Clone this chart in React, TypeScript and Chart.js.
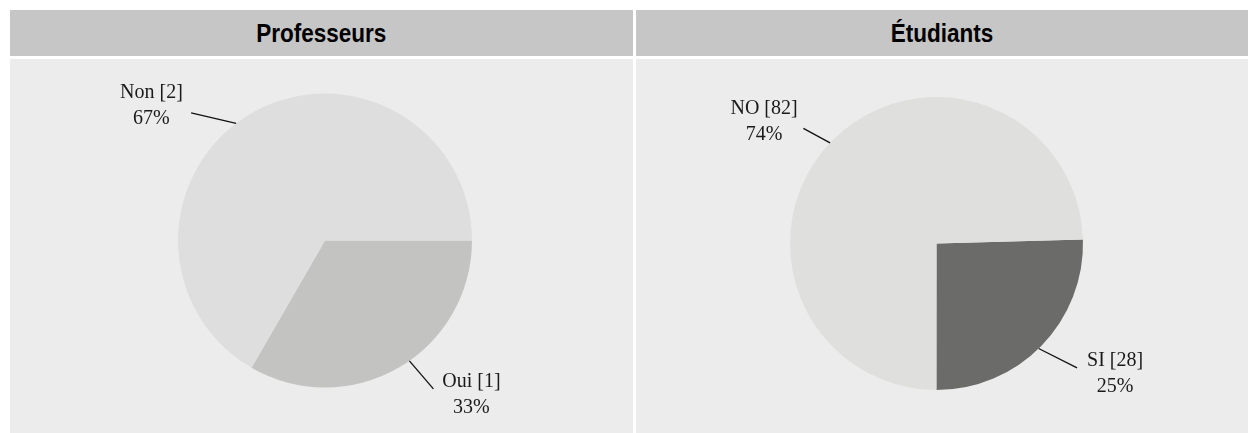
import React, { useEffect, useRef } from "react";
import { Chart, registerables } from "chart.js";

Chart.register(...registerables);

// ---- Data ----
const profTitle = "Professeurs";
const profLabels = ["Oui", "Non"];
const profCounts = [1, 2];
const profPercents = ["33%", "67%"];

const etuTitle = "Étudiants";
const etuLabels = ["SI", "NO"];
const etuCounts = [28, 82];
const etuPercents = ["25%", "74%"];

// ---- Styles ----
const profColors = ["#c3c3c2", "#dedede"];
const etuColors = ["#6b6b69", "#dfdfdd"];

type LabelStyle = {
  fracs: number[];
  lines: [number, number][];
  texts: [number, number][];
};

const leaderPlugin = {
  id: "leaders",
  afterDatasetsDraw(chart: any, _args: any, opts: any) {
    const ctx = chart.ctx as CanvasRenderingContext2D;
    const meta = chart.getDatasetMeta(0);
    const labels = chart.data.labels as string[];
    const counts = chart.data.datasets[0].data as number[];
    const pcts = opts.percents as string[];
    meta.data.forEach((arc: any, i: number) => {
      const p = arc.getProps(["x", "y", "startAngle", "endAngle", "outerRadius"], true);
      const a = p.startAngle + (p.endAngle - p.startAngle) * opts.fracs[i];
      const x0 = p.x + Math.cos(a) * p.outerRadius;
      const y0 = p.y + Math.sin(a) * p.outerRadius;
      const x1 = x0 + opts.lines[i][0];
      const y1 = y0 + opts.lines[i][1];
      ctx.save();
      ctx.strokeStyle = "#111";
      ctx.lineWidth = 1.3;
      ctx.beginPath();
      ctx.moveTo(x0, y0);
      ctx.lineTo(x1, y1);
      ctx.stroke();
      ctx.fillStyle = "#1a1a1a";
      ctx.font = "20px 'Liberation Serif', serif";
      ctx.textAlign = "center";
      ctx.textBaseline = "middle";
      const tx = x1 + opts.texts[i][0];
      const ty = y1 + opts.texts[i][1];
      ctx.fillText(`${labels[i]} [${counts[i]}]`, tx, ty);
      ctx.fillText(pcts[i], tx, ty + 26);
      ctx.restore();
    });
  },
};

type PanelProps = {
  title: string;
  labels: string[];
  counts: number[];
  percents: string[];
  colors: string[];
  left: number;
  width: number;
  padding: { left: number; right: number; top: number; bottom: number };
  rotation: number;
  labelStyle: LabelStyle;
};

function Panel(props: PanelProps) {
  const ref = useRef<HTMLCanvasElement | null>(null);
  useEffect(() => {
    if (!ref.current) return;
    const chart = new Chart(ref.current, {
      type: "pie",
      data: {
        labels: props.labels,
        datasets: [
          {
            data: props.counts,
            backgroundColor: props.colors,
            borderWidth: 0,
          },
        ],
      },
      options: {
        responsive: false,
        animation: false,
        rotation: props.rotation,
        layout: { padding: props.padding },
        plugins: {
          legend: { display: false },
          tooltip: { enabled: false },
          leaders: { ...props.labelStyle, percents: props.percents },
        } as any,
      },
      plugins: [leaderPlugin],
    });
    return () => chart.destroy();
  }, []);
  const bodyH = 374;
  return (
    <>
      <div
        style={{
          position: "absolute",
          left: props.left,
          top: 10,
          width: props.width,
          height: 46,
          background: "#c6c6c6",
          display: "flex",
          alignItems: "center",
          justifyContent: "center",
        }}
      >
        <span
          style={{
            display: "inline-block",
            fontFamily: "'Liberation Sans', Arial, sans-serif",
            fontWeight: "bold",
            fontSize: 25,
            color: "#000",
            transform: "scaleX(0.9)",
          }}
        >
          {props.title}
        </span>
      </div>
      <div
        style={{
          position: "absolute",
          left: props.left,
          top: 59,
          width: props.width,
          height: bodyH,
          background: "#ececec",
        }}
      >
        <canvas ref={ref} width={props.width} height={bodyH} style={{ display: "block" }} />
      </div>
    </>
  );
}

export default function App() {
  return (
    <div style={{ position: "absolute", left: 0, top: 0, width: 1248, height: 433, overflow: "hidden", background: "#fff" }}>
      <Panel
        title={profTitle}
        labels={profLabels}
        counts={profCounts}
        percents={profPercents}
        colors={profColors}
        left={10}
        width={623}
        padding={{ left: 7, right: 0, top: 34.5, bottom: 45.5 }}
        rotation={90}
        labelStyle={{
          fracs: [0.458, 0.47],
          lines: [
            [24, 28],
            [-45, -10.6],
          ],
          texts: [
            [38, -7],
            [-39.7, -19.7],
          ],
        }}
      />
      <Panel
        title={etuTitle}
        labels={etuLabels}
        counts={etuCounts}
        percents={etuPercents}
        colors={etuColors}
        left={636}
        width={612}
        padding={{ left: 0, right: 11, top: 38, bottom: 43 }}
        rotation={88.4}
        labelStyle={{
          fracs: [0.517, 0.497],
          lines: [
            [38.4, 19.4],
            [-26.7, -14.4],
          ],
          texts: [
            [38, -7],
            [-39.3, -19.3],
          ],
        }}
      />
    </div>
  );
}
